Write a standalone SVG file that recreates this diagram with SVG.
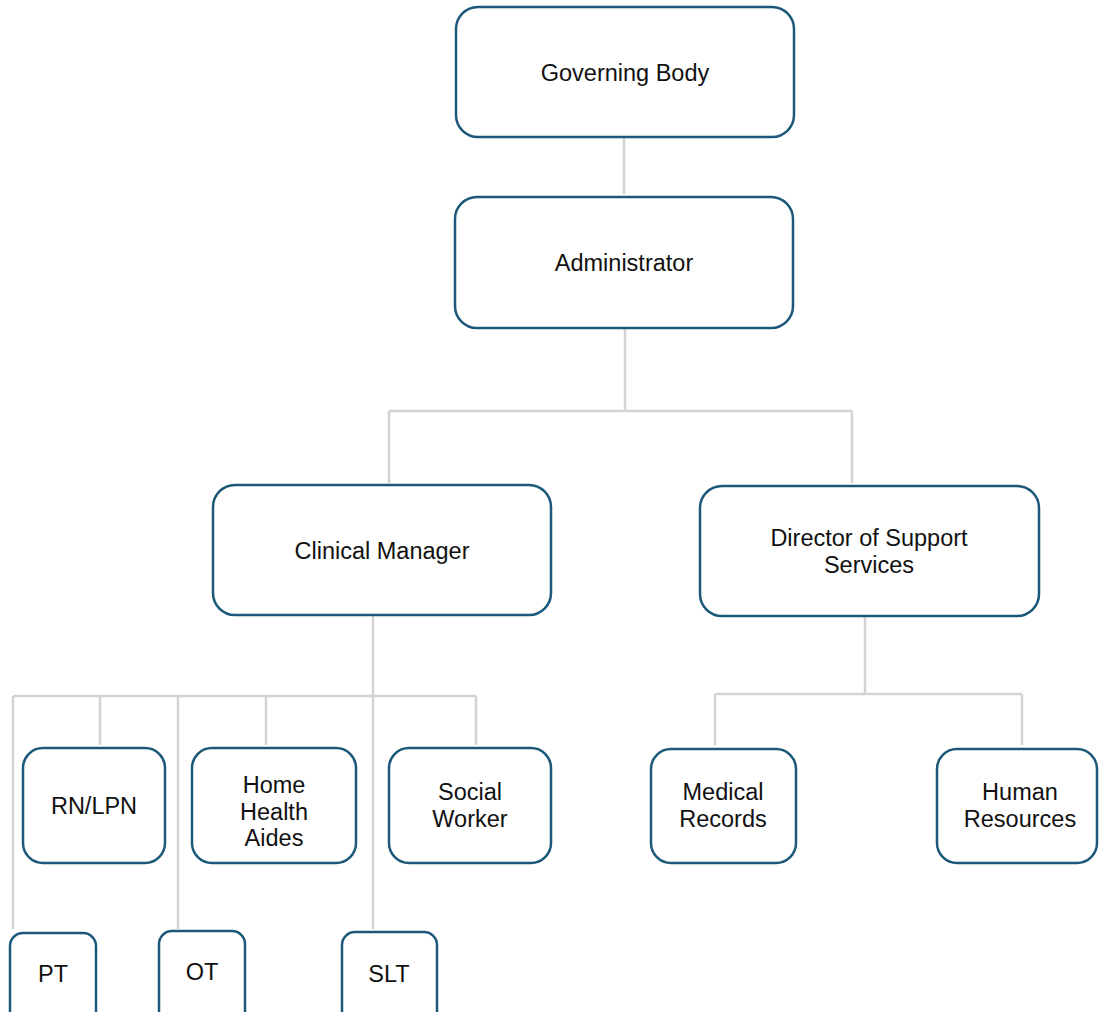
<svg xmlns="http://www.w3.org/2000/svg" width="1099" height="1012" viewBox="0 0 1099 1012">
<style>
.box{fill:#fff;stroke:#1b5879;stroke-width:2.5}
.c{fill:none;stroke:#d3d3d3;stroke-width:2.5}
text{font-family:"Liberation Sans",Arial,sans-serif;font-size:23.5px;fill:#111;text-anchor:middle}
</style>
<rect width="1099" height="1012" fill="#fff"/>
<g id="connectors">
<path class="c" d="M624 138V194"/>
<path class="c" d="M625 329V411M389 411H852M389 411V483M852 411V483"/>
<path class="c" d="M373 616V696M13 696H476M13 696V929M100 696V745M178 696V929M266 696V745M373 696V929M476 696V745"/>
<path class="c" d="M865 617V694M715 694H1022M715 694V745M1022 694V745"/>
</g>
<g id="governing-body"><rect class="box" x="456" y="7" width="338" height="130" rx="22"/><text x="625" y="81">Governing Body</text></g>
<g id="administrator"><rect class="box" x="455" y="197" width="338" height="131" rx="22"/><text x="624" y="271">Administrator</text></g>
<g id="clinical-manager"><rect class="box" x="213" y="485" width="338" height="130" rx="22"/><text x="382" y="559">Clinical Manager</text></g>
<g id="director-support"><rect class="box" x="700" y="486" width="339" height="130" rx="22"/><text x="869" y="546">Director of Support</text><text x="869" y="573">Services</text></g>
<g id="rn-lpn"><rect class="box" x="23" y="748" width="142" height="115" rx="20"/><text x="94" y="814">RN/LPN</text></g>
<g id="home-health-aides"><rect class="box" x="192" y="748" width="164" height="115" rx="20"/><text x="274" y="793">Home</text><text x="274" y="820">Health</text><text x="274" y="846">Aides</text></g>
<g id="social-worker"><rect class="box" x="389" y="748" width="162" height="115" rx="20"/><text x="470" y="800">Social</text><text x="470" y="827">Worker</text></g>
<g id="medical-records"><rect class="box" x="651" y="749" width="145" height="114" rx="20"/><text x="723" y="800">Medical</text><text x="723" y="827">Records</text></g>
<g id="human-resources"><rect class="box" x="937" y="749" width="160" height="114" rx="20"/><text x="1020" y="800">Human</text><text x="1020" y="827">Resources</text></g>
<g id="pt"><rect class="box" x="10" y="933" width="86" height="100" rx="13"/><text x="53" y="982">PT</text></g>
<g id="ot"><rect class="box" x="159" y="931" width="86" height="100" rx="13"/><text x="202" y="980">OT</text></g>
<g id="slt"><rect class="box" x="342" y="932" width="95" height="100" rx="13"/><text x="389" y="982">SLT</text></g>
</svg>
